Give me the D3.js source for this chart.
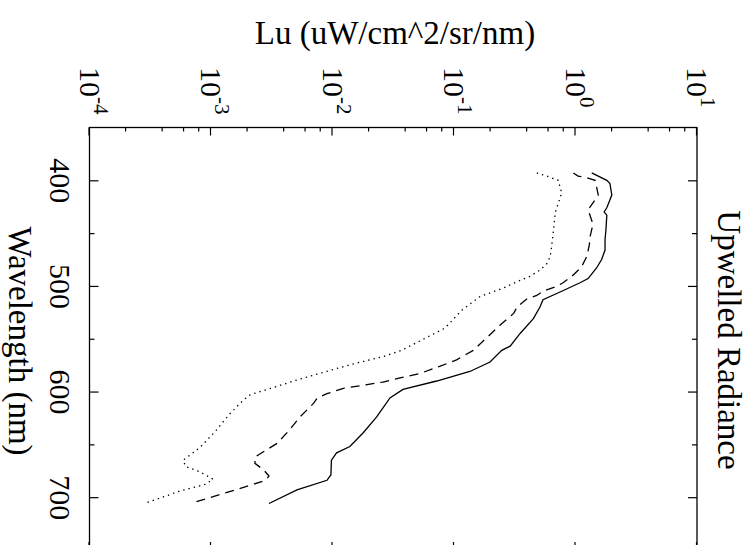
<!DOCTYPE html>
<html>
<head>
<meta charset="utf-8">
<script src="https://cdn.jsdelivr.net/npm/d3@7"></script>
<style>
  body { margin: 0; background: #fff; }
  svg { display: block; }
  text { font-family: "Liberation Serif", "Times New Roman", serif; fill: #000; }
</style>
</head>
<body>
<div id="chart"></div>
<script>
// wavelength (nm) and upwelled radiance (uW/cm^2/sr/nm) for the three casts
const wlSolid = [393, 400, 403, 414, 426, 430, 433, 447, 456, 466, 475, 483, 493, 497, 505, 513, 520, 531, 545, 557, 561, 572, 581, 590, 598, 606, 624, 639, 652, 658, 665, 679, 684, 693, 706];
const luSolid = [1.36, 1.81, 1.92, 1.99, 1.81, 1.72, 1.81, 1.78, 1.75, 1.75, 1.64, 1.49, 1.27, 1.09, 0.77, 0.54, 0.51, 0.45, 0.35, 0.29, 0.247, 0.198, 0.135, 0.072, 0.038, 0.0297, 0.0231, 0.0179, 0.0139, 0.0108, 0.0098, 0.0097, 0.009, 0.0051, 0.003];

const wlDashed = [393, 396, 397, 400, 406, 414, 428, 438, 442, 453, 461, 472, 482, 491, 497, 501, 505, 509, 512, 520, 526, 532, 537, 561, 570, 576, 583, 587, 591, 594, 597, 602, 606, 611, 624, 638, 649, 657, 662, 668, 674, 680, 684, 688, 693, 695, 705];
const luDashed = [0.96, 1.05, 1.2, 1.45, 1.49, 1.54, 1.27, 1.36, 1.39, 1.32, 1.3, 1.24, 1.12, 0.93, 0.79, 0.68, 0.54, 0.48, 0.4, 0.33, 0.31, 0.27, 0.24, 0.144, 0.105, 0.077, 0.052, 0.036, 0.026, 0.0179, 0.0123, 0.009, 0.0075, 0.007, 0.0054, 0.0043, 0.0035, 0.0027, 0.0023, 0.0023, 0.0027, 0.003, 0.0028, 0.0022, 0.0016, 0.0014, 0.00072];

const wlDotted = [393, 396, 400, 412, 422, 431, 447, 460, 472, 479, 485, 491, 496, 502, 510, 523, 540, 561, 567, 573, 580, 589, 597, 603, 608, 621, 638, 653, 665, 671, 676, 683, 688, 694, 705];
const luDotted = [0.48, 0.58, 0.72, 0.77, 0.72, 0.68, 0.66, 0.64, 0.62, 0.58, 0.51, 0.42, 0.33, 0.255, 0.164, 0.116, 0.084, 0.037, 0.026, 0.0158, 0.0095, 0.0051, 0.0031, 0.0021, 0.00185, 0.00143, 0.00108, 0.00081, 0.00059, 0.00062, 0.00081, 0.00104, 0.00089, 0.00056, 0.0003];

const wlMajor = [400, 500, 600, 700];
const wlMinor = [450, 550, 650];
const luMajor = [1e-4, 1e-3, 1e-2, 1e-1, 1e0, 1e1];
const luExp = ["-4", "-3", "-2", "-1", "0", "1"];

const W = 752, H = 545;

const svg = d3.select("#chart").append("svg")
  .attr("width", W)
  .attr("height", H);

// the whole plot is turned a quarter turn clockwise
const g = svg.append("g")
  .attr("transform", `translate(${W},0) rotate(90)`);

// inner coords: x along wavelength (page down), y along Lu (page left)
const x = d3.scaleLinear().domain([350, 750]).range([127.5, 550]);
const y = d3.scaleLog().domain([1e-4, 10]).range([662.5, 55]);

const luMinor = [];
luMajor.slice(0, -1).forEach(d => [2, 4, 6, 8].forEach(m => luMinor.push(d * m)));

const [x0, x1] = x.range();
const [y0, y1] = y.range();

// frame
g.append("rect")
  .attr("x", x0).attr("y", y1)
  .attr("width", x1 - x0).attr("height", y0 - y1)
  .attr("fill", "none").attr("stroke", "#000").attr("stroke-width", 1.3);

const tickStyle = sel => {
  sel.select(".domain").remove();
  sel.selectAll("line").attr("stroke", "#000").attr("stroke-width", 1.2);
};

// wavelength axis ticks (page left and right)
g.append("g").attr("transform", `translate(0,${y0})`)
  .call(d3.axisBottom(x).tickValues(wlMajor).tickSize(-9).tickPadding(18).tickFormat(d3.format("d")))
  .call(tickStyle)
  .call(s => s.selectAll("text").attr("font-size", 30).attr("font-family", "Liberation Serif, serif").attr("fill", "#000"));
g.append("g").attr("transform", `translate(0,${y0})`)
  .call(d3.axisBottom(x).tickValues(wlMinor).tickSize(-5).tickFormat(""))
  .call(tickStyle);
g.append("g").attr("transform", `translate(0,${y1})`)
  .call(d3.axisTop(x).tickValues(wlMajor).tickSize(-9).tickFormat(""))
  .call(tickStyle);
g.append("g").attr("transform", `translate(0,${y1})`)
  .call(d3.axisTop(x).tickValues(wlMinor).tickSize(-5).tickFormat(""))
  .call(tickStyle);

// Lu axis ticks (page top and bottom)
[[x0, d3.axisLeft], [x1, d3.axisRight]].forEach(([pos, axis]) => {
  g.append("g").attr("transform", `translate(${pos},0)`)
    .call(axis(y).tickValues(luMajor).tickSize(-8).tickFormat(""))
    .call(tickStyle);
  g.append("g").attr("transform", `translate(${pos},0)`)
    .call(axis(y).tickValues(luMinor).tickSize(-4).tickFormat(""))
    .call(tickStyle);
});

// power-of-ten labels
const lab = g.append("g").selectAll("text")
  .data(luMajor)
  .join("text")
  .attr("x", 67)
  .attr("y", d => y(d) + 10)
  .attr("font-size", 30);
lab.append("tspan").text("10");
lab.append("tspan")
  .attr("dy", -14)
  .attr("font-size", 21)
  .text((d, i) => luExp[i]);

// curves
const line = d3.line().x(d => x(d[0])).y(d => y(d[1]));
const series = [
  { wl: wlSolid, lu: luSolid, dash: null },
  { wl: wlDashed, lu: luDashed, dash: "9,6" },
  { wl: wlDotted, lu: luDotted, dash: "1.4,4" }
];
series.forEach(s => {
  g.append("path")
    .datum(s.wl.map((w, i) => [w, s.lu[i]]))
    .attr("d", line)
    .attr("fill", "none")
    .attr("stroke", "#000")
    .attr("stroke-width", 1.3)
    .attr("stroke-dasharray", s.dash);
});

// titles
g.append("text")
  .attr("x", 341).attr("y", 743)
  .attr("text-anchor", "middle")
  .attr("font-size", 33)
  .text("Wavelength (nm)");
g.append("text")
  .attr("x", 340).attr("y", 34.5)
  .attr("text-anchor", "middle")
  .attr("font-size", 33)
  .text("Upwelled Radiance");
g.append("text")
  .attr("transform", `translate(43.5,357) rotate(-90)`)
  .attr("text-anchor", "middle")
  .attr("font-size", 33)
  .text("Lu (uW/cm^2/sr/nm)");
</script>
</body>
</html>
